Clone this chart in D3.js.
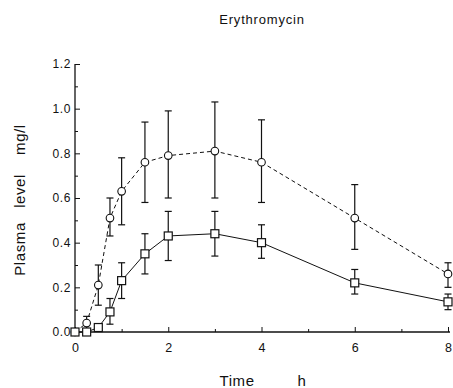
<!DOCTYPE html>
<html><head><meta charset="utf-8">
<script src="https://cdn.jsdelivr.net/npm/d3@7"></script>
<style>body{margin:0;background:#fff}svg{display:block}text{font-family:"Liberation Sans",Arial,sans-serif;fill:#111}</style>
</head><body><svg id="c" width="453" height="388"></svg>
<script>
const times = [0, 0.25, 0.5, 0.75, 1, 1.5, 2, 3, 4, 6, 8];
const circleMean = [0, 0.04, 0.21, 0.51, 0.63, 0.76, 0.79, 0.81, 0.76, 0.51, 0.26];
const circleLo   = [0, 0.01, 0.12, 0.43, 0.48, 0.58, 0.60, 0.60, 0.58, 0.37, 0.20];
const circleHi   = [0, 0.07, 0.30, 0.60, 0.78, 0.94, 0.99, 1.03, 0.95, 0.66, 0.31];
const squareMean = [0, 0, 0.02, 0.09, 0.23, 0.35, 0.43, 0.44, 0.40, 0.22, 0.135];
const squareLo   = [0, 0, 0.01, 0.035, 0.15, 0.26, 0.32, 0.34, 0.33, 0.17, 0.10];
const squareHi   = [0, 0, 0.03, 0.15, 0.31, 0.44, 0.54, 0.54, 0.48, 0.28, 0.17];
const xTicks = [0, 2, 4, 6, 8];
const yTicks = [0, 0.2, 0.4, 0.6, 0.8, 1.0, 1.2];

const svg = d3.select("#c");
const x = d3.scaleLinear().domain([0, 8]).range([75, 448]);
const y = d3.scaleLinear().domain([0, 1.2]).range([332, 64]);

// axes
const xAxis = d3.axisBottom(x).tickValues(d3.range(0, 9, 1)).tickSize(-4).tickFormat(d => xTicks.includes(d) ? d3.format("d")(d) : "").tickPadding(11);
const gx = svg.append("g").attr("transform", "translate(0,332)").call(xAxis);
gx.select(".domain").attr("d", "M75,0H450").attr("stroke", "#111").attr("stroke-width", 1.3);
gx.selectAll(".tick line").attr("y2", d => xTicks.includes(d) ? -5 : -3).attr("stroke", "#111");
gx.selectAll(".tick text").attr("font-size", 12.5).attr("font-family", "Liberation Sans, Arial, sans-serif").attr("fill", "#111");

const yAxis = d3.axisLeft(y).tickValues(d3.range(0, 13).map(i => i / 10)).tickSize(-4).tickFormat((d, i) => i % 2 === 0 ? d3.format(".1f")(d) : "").tickPadding(4);
const gy = svg.append("g").attr("transform", "translate(75,0)").call(yAxis);
gy.select(".domain").attr("d", "M0,64V332").attr("stroke", "#111").attr("stroke-width", 1.3);
gy.selectAll(".tick line").attr("x2", (d, i) => i % 2 === 0 ? 5 : 3).attr("stroke", "#111");
gy.selectAll(".tick text").attr("font-size", 12).attr("letter-spacing", 0.6).attr("font-family", "Liberation Sans, Arial, sans-serif").attr("fill", "#111");

// titles
svg.append("text").attr("x", 262).attr("y", 24).attr("text-anchor", "middle").attr("font-size", 13).attr("letter-spacing", 0.8).text("Erythromycin");
svg.append("text").attr("transform", "translate(25,200) rotate(-90)").attr("text-anchor", "middle").attr("font-size", 15).attr("letter-spacing", 0.6).style("white-space", "pre").text("Plasma   level    mg/l");
svg.append("text").attr("x", 263).attr("y", 386).attr("text-anchor", "middle").attr("font-size", 15).attr("letter-spacing", 0.6).style("white-space", "pre").text("Time         h");

function series(mean, lo, hi, dash, shape) {
  const data = times.map((t, i) => ({t, m: mean[i], lo: lo[i], hi: hi[i]}));
  const g = svg.append("g");
  g.append("path").datum(data)
    .attr("d", d3.line().x(d => x(d.t)).y(d => y(d.m)))
    .attr("fill", "none").attr("stroke", "#111").attr("stroke-width", 1)
    .attr("stroke-dasharray", dash);
  const eb = g.selectAll(".eb").data(data.filter(d => d.hi - d.lo > 0.02)).join("g");
  eb.append("line").attr("x1", d => x(d.t)).attr("x2", d => x(d.t)).attr("y1", d => y(d.lo)).attr("y2", d => y(d.hi)).attr("stroke", "#111").attr("stroke-width", 1.2);
  eb.append("line").attr("x1", d => x(d.t) - 3.5).attr("x2", d => x(d.t) + 3.5).attr("y1", d => y(d.hi)).attr("y2", d => y(d.hi)).attr("stroke", "#111").attr("stroke-width", 1.2);
  eb.append("line").attr("x1", d => x(d.t) - 3.5).attr("x2", d => x(d.t) + 3.5).attr("y1", d => y(d.lo)).attr("y2", d => y(d.lo)).attr("stroke", "#111").attr("stroke-width", 1.2);
  if (shape === "circle") {
    g.selectAll("circle").data(data).join("circle").attr("cx", d => x(d.t)).attr("cy", d => y(d.m)).attr("r", 3.8)
      .attr("fill", "#fff").attr("stroke", "#111").attr("stroke-width", 1.1);
  } else {
    g.selectAll("rect").data(data).join("rect").attr("x", d => x(d.t) - 4).attr("y", d => y(d.m) - 4).attr("width", 8).attr("height", 8)
      .attr("fill", "#fff").attr("stroke", "#111").attr("stroke-width", 1.2);
  }
}
series(circleMean, circleLo, circleHi, "4,3", "circle");
series(squareMean, squareLo, squareHi, null, "square");
</script></body></html>
